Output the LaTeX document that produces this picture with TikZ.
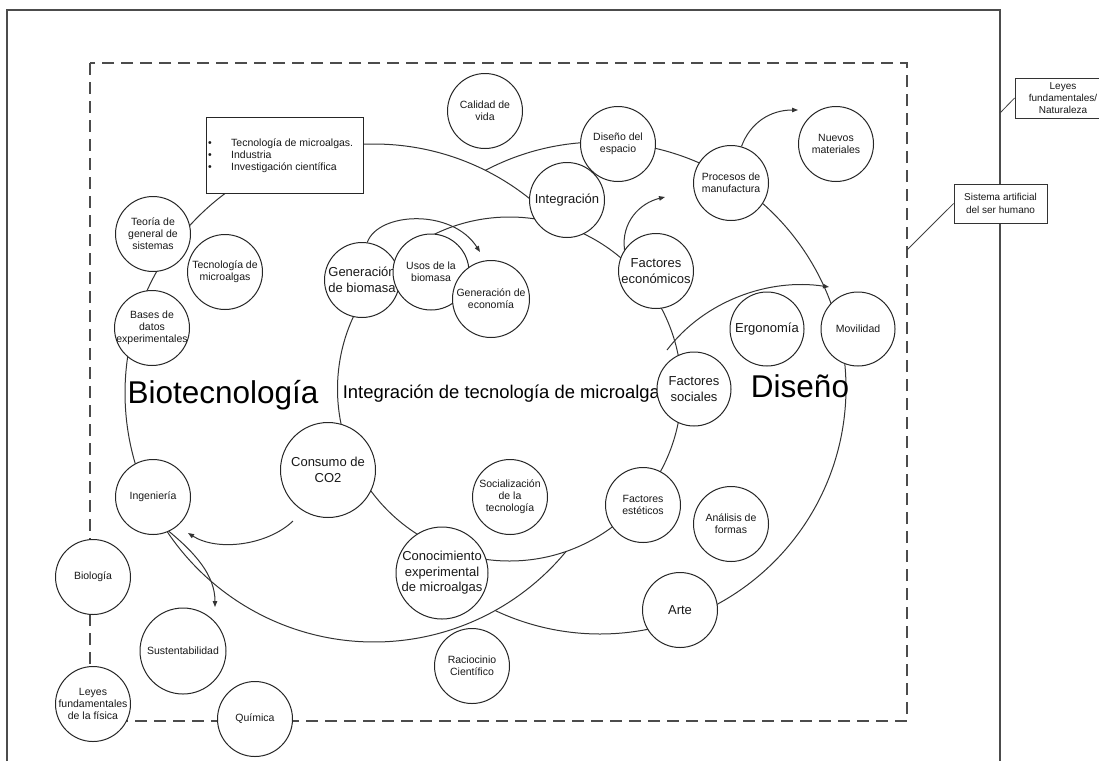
\documentclass[tikz,border=0pt]{standalone}
\usepackage{fontspec}
\setmainfont{Liberation Sans}
\usetikzlibrary{arrows.meta}

\tikzset{
  curve/.style={draw=black!80, line width=1pt},
  arr/.style={curve, -{Triangle[length=6pt,width=4.5pt]}},
  bub/.style={circle, draw=black!85, line width=1pt, fill=white, inner sep=-12pt,
    minimum size=75pt, align=center, text=black!90, font=\fontsize{10.5}{12}\selectfont},
  bubm/.style={bub, font=\fontsize{13}{15.5}\selectfont},
  outerframe/.style={draw=black!70, line width=1.2pt},
  dashframe/.style={draw=black!70, line width=2pt, dash pattern=on 12pt off 7pt},
  callout/.style={rectangle, draw=black!80, line width=0.9pt, fill=white, align=center,
    inner sep=0pt, text=black!90, font=\fontsize{10}{12.3}\selectfont},
  bigtext/.style={anchor=base, text=black, font=\fontsize{31.5}{36}\selectfont},
  itemtext/.style={anchor=base west, inner sep=0pt, text=black!90, font=\fontsize{10.5}{12}\selectfont},
  thinline/.style={draw=black!75, line width=0.8pt},
}

\begin{document}
\begin{tikzpicture}[x=1pt,y=-1pt]
\useasboundingbox (0,0) rectangle (1099,761);

% outer frame (natural laws) and dashed frame (human artificial system)
\draw[outerframe] (7,761) -- (7,10) -- (1000,10) -- (1000,761);
\draw[dashframe] (90,63) rectangle (907,721);

% three large domains
\draw[curve] (509.5,389) circle[radius=172pt];
\draw[curve] plot[domain=39.5:317.1, samples=140, smooth] ({374+249*cos(\x)},{393+249*sin(\x)});
\draw[curve] plot[domain=-117.8:115.2, samples=140, smooth] ({600+246*cos(\x)},{388+246*sin(\x)});

% domain titles
\node[bigtext] (biotxt) at (223,403) {Biotecnología};
\node[bigtext] (disenotxt) at (800,397) {Diseño};
\node[anchor=base, text=black, font=\fontsize{18.4}{22}\selectfont] (integtxt) at (506,398)
  {Integración de tecnología de microalgas};

% concept bubbles
\node[bub]  (calidad)  at (485,111) {Calidad de\\vida};
\node[bub]  (disesp)   at (618,144) {Diseño del\\espacio};
\node[bub]  (nuevos)   at (836,144) {Nuevos\\materiales};
\node[bub]  (procesos) at (731,183) {Procesos de\\manufactura};
\node[bubm] (integ)    at (567,200) {Integración};
\node[bub]  (teoria)   at (153,234) {Teoría de\\general de\\sistemas};
\node[bub]  (tecmic)   at (225,272) {Tecnología de\\microalgas};
\node[bubm] (genbio)   at (362,280) {Generación\\de biomasa};
\node[bub, minimum size=76pt] (usos) at (431,272) {Usos de la\\biomasa};
\node[bub, minimum size=77pt] (geneco) at (491,299) {Generación de\\economía};
\node[bubm] (faceco)   at (656,271) {Factores\\económicos};
\node[bub]  (bases)    at (152,328) {Bases de\\datos\\experimentales};
\node[bubm, minimum size=74pt] (ergo)  at (767,329) {Ergonomía};
\node[bub, minimum size=74pt]  (movil) at (858,329) {Movilidad};
\node[bubm, minimum size=74pt] (facsoc) at (694,389) {Factores\\sociales};
\node[bubm, minimum size=95pt] (consumo) at (328,470) {Consumo de\\CO2};
\node[bub]  (ingen)    at (153,497) {Ingeniería};
\node[bub]  (social)   at (510,497) {Socialización\\de la\\tecnología};
\node[bub]  (facest)   at (643,505) {Factores\\estéticos};
\node[bub]  (analisis) at (731,524) {Análisis de\\formas};
\node[bubm, minimum size=92pt] (conoc) at (442,573) {Conocimiento\\experimental\\de microalgas};
\node[bubm] (arte)     at (680,610) {Arte};
\node[bub]  (biologia) at (93,577)  {Biología};
\node[bub, minimum size=86pt] (sust) at (183,651) {Sustentabilidad};
\node[bub]  (racioc)   at (472,666) {Raciocinio\\Científico};
\node[bub]  (leyesfis) at (93,704)  {Leyes\\fundamentales\\de la física};
\node[bub]  (quimica)  at (255,719) {Química};

% arrows between concepts
\coordinate (ecoend) at (480,252);
\coordinate (econout) at (665,197);
\coordinate (matend) at (798,110);
\coordinate (socstart) at (667,350);
\coordinate (movend) at (829,287);
\coordinate (co2out) at (293,521);
\coordinate (ingend) at (188,533);
\coordinate (sustend) at (215,607);
\draw[arr] (genbio.82) .. controls (378,212) and (452,208) .. (ecoend);
\draw[arr] (faceco.146) .. controls (621,222) and (640,203) .. (econout);
\draw[arr] (procesos.74) .. controls (750,123) and (770,110) .. (matend);
\draw[arr] (socstart) .. controls (705,300) and (770,278) .. (movend);
\draw[arr] (co2out) .. controls (268,545) and (218,552) .. (ingend);
\draw[arr] (ingen.-65) .. controls (195,553) and (215,575) .. (sustend);

% bulleted box
\node[rectangle, draw=black!85, line width=1pt, fill=white, minimum width=157pt,
      minimum height=76pt, inner sep=0pt] (techbox) at (284.5,155) {};
\node[itemtext] (item1) at (208,146) {\makebox[23pt][l]{•}Tecnología de microalgas.};
\node[itemtext] (item2) at (208,158) {\makebox[23pt][l]{•}Industria};
\node[itemtext] (item3) at (208,170) {\makebox[23pt][l]{•}Investigación científica};

% callouts naming the frames
\node[callout, minimum width=96pt, minimum height=40pt] (leyesnat) at (1063,98)
  {Leyes\\fundamentales/\\Naturaleza};
\node[callout, minimum width=93pt, minimum height=39pt] (sistema) at (1000.5,203.5)
  {Sistema artificial\\del ser humano};
\coordinate (frameA) at (1000,113);
\coordinate (frameB) at (907,250);
\draw[thinline] (leyesnat.west) -- (frameA);
\draw[thinline] (sistema.west) -- (frameB);
\end{tikzpicture}
\end{document}
